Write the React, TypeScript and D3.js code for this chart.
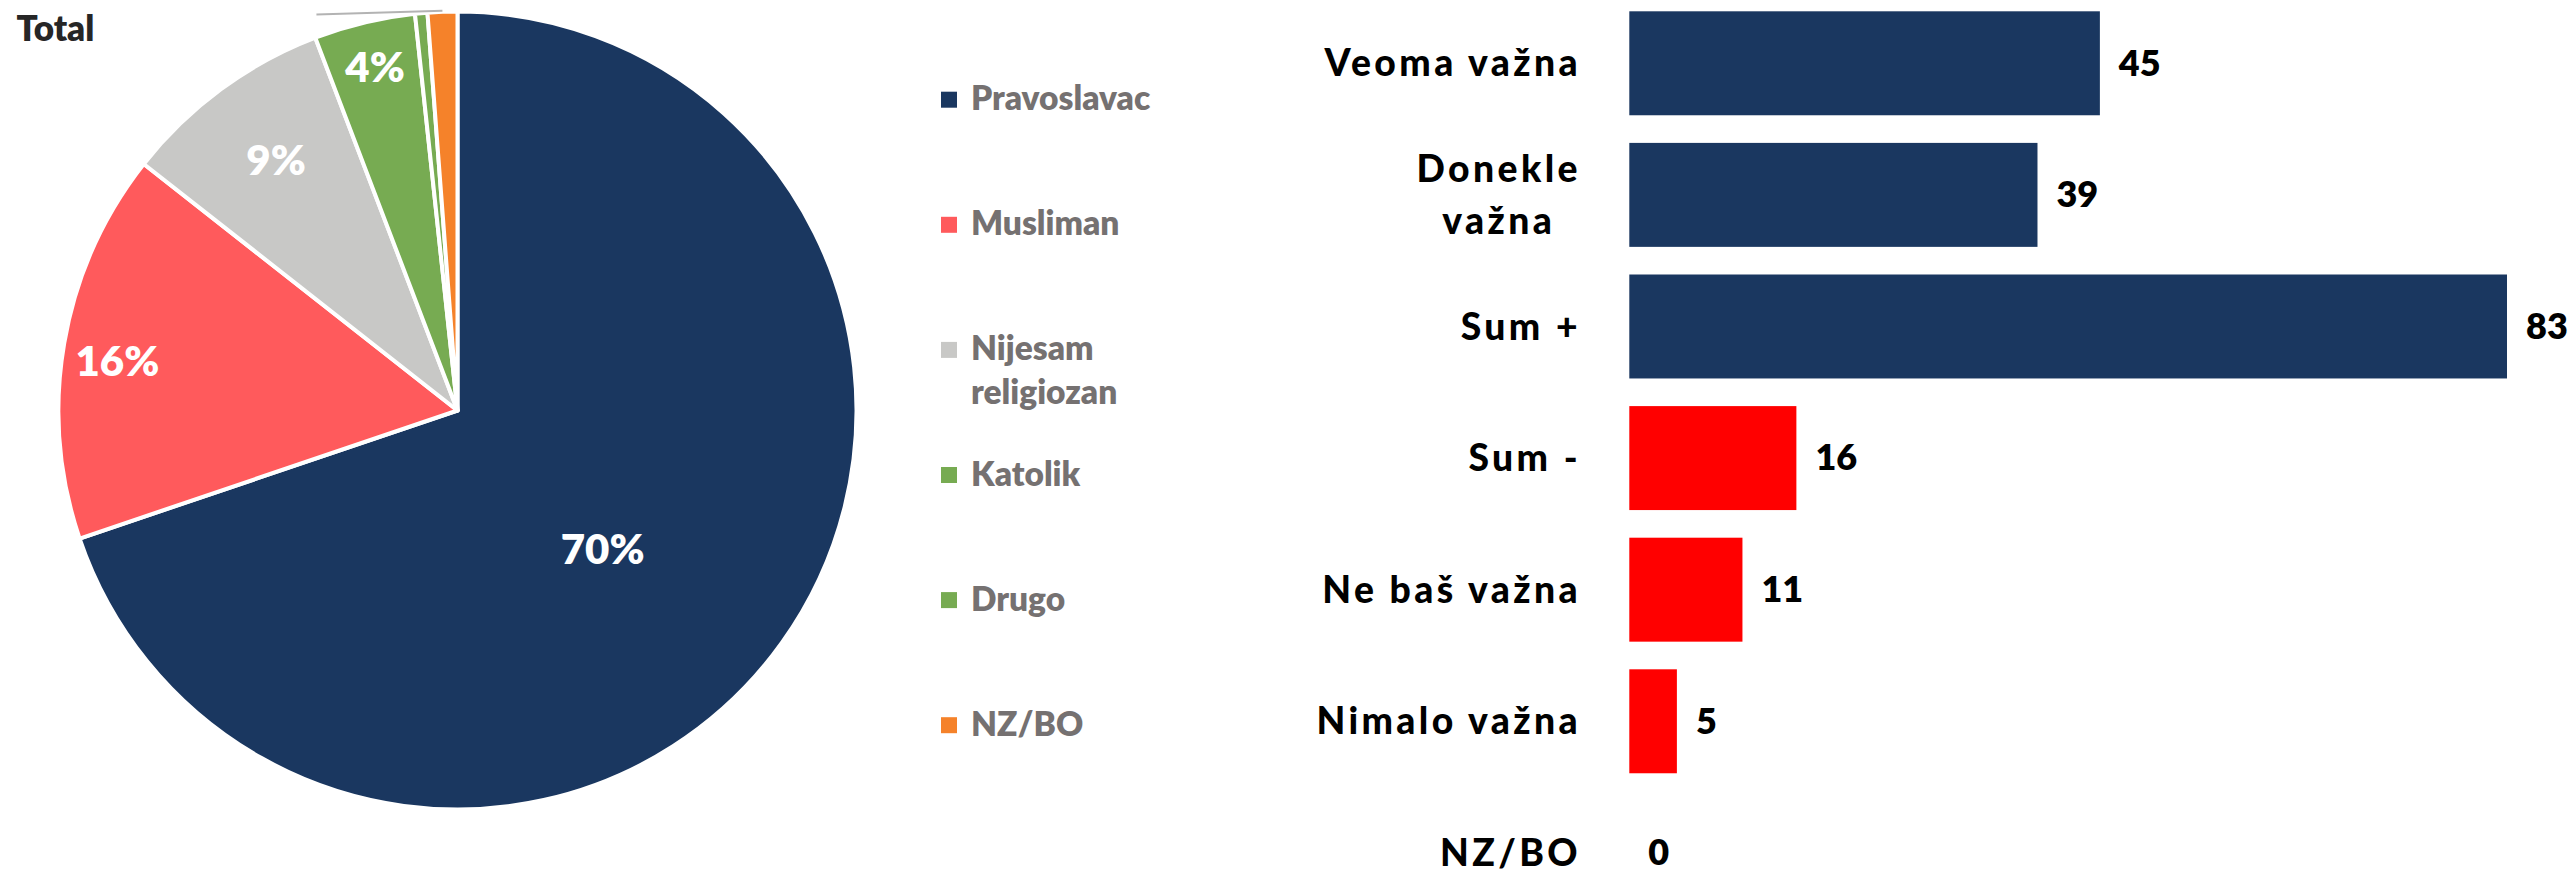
import React, { useEffect, useRef } from "react";
import * as d3 from "d3";

// ---------- data ----------
const pieCategories = ["Pravoslavac", "Musliman", "Nijesam religiozan", "Katolik", "Drugo", "NZ/BO"];
const pieValues = [69.8, 15.8, 8.6, 4.1, 0.5, 1.2];
const legendLines = [["Pravoslavac"], ["Musliman"], ["Nijesam", "religiozan"], ["Katolik"], ["Drugo"], ["NZ/BO"]];
const pieTitle = "Total";

const barCategories = ["Veoma važna", "Donekle važna", "Sum +", "Sum -", "Ne baš važna", "Nimalo važna", "NZ/BO"];
const barLabelLines = [["Veoma važna"], ["Donekle", "važna"], ["Sum +"], ["Sum -"], ["Ne baš važna"], ["Nimalo važna"], ["NZ/BO"]];
const barValues = [44.5, 38.6, 83, 15.8, 10.7, 4.5, 0];
const barGroup = ["pos", "pos", "pos", "neg", "neg", "neg", "neg"];

// ---------- style ----------
const W = 2575;
const H = 874;
const FONT = "Lato, 'Open Sans', sans-serif";
const pieColors = ["#1a3760", "#ff5a5c", "#c8c8c6", "#77ab52", "#77ab52", "#f5822a"];
const barColors = { pos: "#1a3760", neg: "#ff0000" };
// label placement (fraction of radius, angle tweak in degrees) for shown pie labels
const pieLabelLayout = [
  { rf: 0.505, da: 8 },
  { rf: 0.866, da: -1.4 },
  { rf: 0.78, da: 0.5 },
  { rf: 0.89, da: 0 },
];

export default function App() {
  const ref = useRef<SVGSVGElement | null>(null);

  useEffect(() => {
    const svg = d3.select(ref.current);
    svg.selectAll("*").remove();

    // ---------------- PIE ----------------
    const cx = 457.5;
    const cy = 410.5;
    const r = 399;
    const pie = d3.pie<number>().sort(null).value((d) => d);
    const arcs = pie(pieValues);
    const arc = d3.arc<d3.PieArcDatum<number>>().innerRadius(0).outerRadius(r);
    const gPie = svg.append("g").attr("transform", `translate(${cx},${cy})`);

    gPie
      .selectAll("path")
      .data(arcs)
      .join("path")
      .attr("d", arc as any)
      .attr("fill", (_d, i) => pieColors[i])
      .attr("stroke", "#ffffff")
      .attr("stroke-width", 4)
      .attr("stroke-linejoin", "round");

    const labelFs = 42;
    arcs.forEach((a, i) => {
      if (i >= pieLabelLayout.length) return;
      const lay = pieLabelLayout[i];
      const ang = (a.startAngle + a.endAngle) / 2 + (lay.da * Math.PI) / 180;
      const rr = lay.rf * 397;
      const x = Math.sin(ang) * rr;
      const y = -Math.cos(ang) * rr;
      gPie
        .append("text")
        .attr("x", x)
        .attr("y", y + labelFs * 0.36)
        .attr("text-anchor", "middle")
        .attr("font-family", FONT)
        .attr("font-weight", 800)
        .attr("font-size", labelFs)
        .attr("fill", "#ffffff")
        .text(`${Math.round(a.data)}%`);
    });

    // leader line for the (empty) NZ/BO label
    {
      const a = arcs[5];
      const ang = (a.startAngle + a.endAngle) / 2;
      const x0 = Math.sin(ang) * (r + 1);
      const y0 = -Math.cos(ang) * (r + 1);
      gPie
        .append("line")
        .attr("x1", x0)
        .attr("y1", y0)
        .attr("x2", x0 - 126)
        .attr("y2", y0 + 3.6)
        .attr("stroke", "#b3b3b3")
        .attr("stroke-width", 2);
    }

    svg
      .append("text")
      .attr("x", 16.5)
      .attr("y", 40.5)
      .attr("font-family", FONT)
      .attr("font-weight", 800)
      .attr("font-size", 35)
      .attr("fill", "#262626")
      .text(pieTitle);

    // ---------------- LEGEND ----------------
    const legY = d3.scalePoint<string>().domain(pieCategories).range([99.7, 725.2]);
    const gLeg = svg.append("g");
    pieCategories.forEach((c, i) => {
      const y = legY(c) as number;
      gLeg
        .append("rect")
        .attr("x", 941)
        .attr("y", y - 8)
        .attr("width", 16)
        .attr("height", 16)
        .attr("fill", pieColors[i]);
      legendLines[i].forEach((line, j) => {
        gLeg
          .append("text")
          .attr("x", 971)
          .attr("y", y + 10.5 + j * 44)
          .attr("font-family", FONT)
          .attr("font-weight", 800)
          .attr("font-size", 33.5)
          .attr("fill", "#757171")
          .text(line);
      });
    });

    // ---------------- BARS ----------------
    const step = 131.6;
    const x = d3.scaleLinear().domain([0, 83]).range([1629.3, 2507]);
    const y = d3
      .scaleBand<string>()
      .domain(barCategories)
      .range([11.3, 11.3 + step * (barCategories.length - 0.21)])
      .paddingInner(0.21)
      .paddingOuter(0);
    const gBar = svg.append("g");
    gBar
      .selectAll("rect")
      .data(barValues)
      .join("rect")
      .attr("x", x(0))
      .attr("y", (_d, i) => y(barCategories[i]) as number)
      .attr("width", (d) => Math.max(0, x(d) - x(0)))
      .attr("height", y.bandwidth())
      .attr("fill", (_d, i) => (barColors as any)[barGroup[i]]);

    const valFs = 36;
    barValues.forEach((v, i) => {
      const cyb = (y(barCategories[i]) as number) + y.bandwidth() / 2;
      gBar
        .append("text")
        .attr("x", x(v) + 19)
        .attr("y", cyb + valFs * 0.34)
        .attr("font-family", FONT)
        .attr("font-weight", 800)
        .attr("font-size", valFs)
        .attr("fill", "#000000")
        .text(String(Math.round(v)));
    });

    const catFs = 37.3;
    const lineH = 52;
    const labelRight = 1581;
    barLabelLines.forEach((lines, i) => {
      const cyb = (y(barCategories[i]) as number) + y.bandwidth() / 2;
      const n = lines.length;
      const t0 = gBar
        .append("text")
        .attr("x", labelRight)
        .attr("y", cyb - ((n - 1) * lineH) / 2 + catFs * 0.35)
        .attr("text-anchor", "end")
        .attr("font-family", FONT)
        .attr("font-weight", 900)
        .attr("font-size", catFs)
        .attr("letter-spacing", 3.4)
        .attr("fill", "#000000")
        .text(lines[0]);
      if (n > 1) {
        const w0 = (t0.node() as SVGTextElement).getComputedTextLength();
        const mid = labelRight - w0 / 2;
        for (let j = 1; j < n; j++) {
          gBar
            .append("text")
            .attr("x", mid)
            .attr("y", cyb - ((n - 1) * lineH) / 2 + j * lineH + catFs * 0.35)
            .attr("text-anchor", "middle")
            .attr("font-family", FONT)
            .attr("font-weight", 900)
            .attr("font-size", catFs)
            .attr("letter-spacing", 3.4)
            .attr("fill", "#000000")
            .text(lines[j]);
        }
      }
    });
  }, []);

  return (
    <svg
      ref={ref}
      width={W}
      height={H}
      viewBox={`0 0 ${W} ${H}`}
      style={{ position: "absolute", left: 0, top: 0, background: "#ffffff" }}
    />
  );
}
